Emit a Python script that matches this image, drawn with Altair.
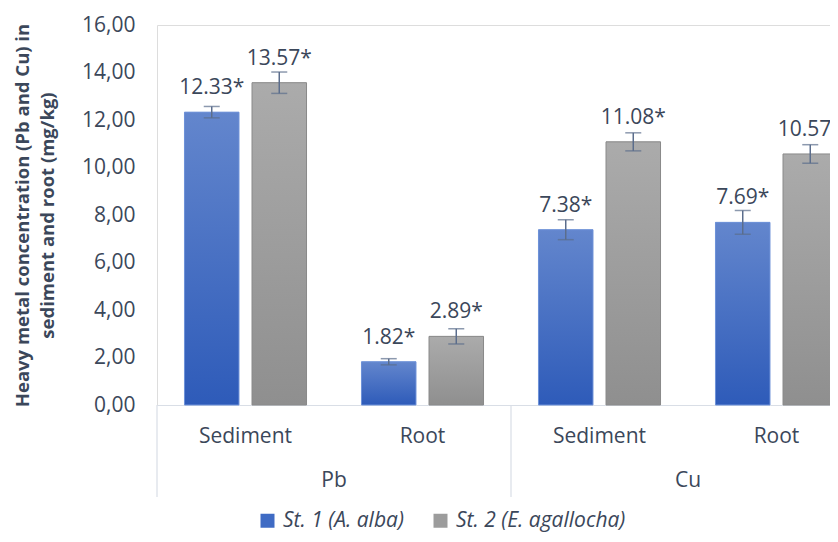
import altair as alt
import pandas as pd

# ---- data ----
metals = ["Pb", "Pb", "Cu", "Cu"]
parts = ["Sediment", "Root", "Sediment", "Root"]
stations = ["St. 1 (A. alba)", "St. 2 (E. agallocha)"]
st1_values = [12.33, 1.82, 7.38, 7.69]
st2_values = [13.57, 2.89, 11.08, 10.57]
st1_errors = [0.24, 0.13, 0.42, 0.50]
st2_errors = [0.45, 0.32, 0.38, 0.39]
y_ticks = [0, 2, 4, 6, 8, 10, 12, 14, 16]
y_title = ["Heavy metal concentration (Pb and Cu) in", "sediment and root (mg/kg)"]

cats = [f"{m} {p}" for m, p in zip(metals, parts)]

rows = []
for st, vals, errs in [(stations[0], st1_values, st1_errors), (stations[1], st2_values, st2_errors)]:
    for c, v, e in zip(cats, vals, errs):
        rows.append({"cat": c, "station": st, "value": v, "lo": v - e, "hi": v + e,
                     "label": f"{v:.2f}*"})
df = pd.DataFrame(rows)

group_names = ["Pb", "Cu"]
group_start = [cats[0], cats[2]]
group_mid = [cats[1], cats[3]]
sep_df = pd.DataFrame({"cat": group_start})
grp_df = pd.DataFrame({"cat": group_mid, "name": group_names})

TXT = "#3b475a"
FONT = "Open Sans"
FS = 21

xscale = alt.Scale(domain=cats, range=[0, 708], paddingInner=0, paddingOuter=0)
xaxis = alt.Axis(title=None, labelExpr="split(datum.label, ' ')[1]", labelAngle=0,
                 ticks=False, domain=True, domainColor="#d9dee6", domainWidth=1.2,
                 labelFontSize=FS, labelColor=TXT, labelPadding=20, labelFont=FONT)
X = alt.X("cat:N", scale=xscale, axis=xaxis, sort=cats)
XO = alt.XOffset("station:N", scale=alt.Scale(domain=stations, paddingInner=0.1926,
                                              paddingOuter=0.407))
yaxis = alt.Axis(values=y_ticks, labelExpr="replace(format(datum.value, '.2f'), '.', ',')",
                 grid=False, domain=False, ticks=False, labelFontSize=FS, labelColor=TXT,
                 labelPadding=22, labelFont=FONT, title=y_title, titleFontSize=18.5,
                 titleFontWeight="bold", titleColor=TXT, titleFont=FONT,
                 titlePadding=24, titleLineHeight=25)
yscale = alt.Scale(domain=[0, 16], nice=False)
Y = alt.Y("value:Q", scale=yscale, axis=yaxis)

base = alt.Chart(df)

bars = base.mark_bar().encode(
    x=X, xOffset=XO, y=Y,
    color=alt.Color("station:N", scale=alt.Scale(domain=stations, range=["#3f6bc4", "#9c9c9c"]),
                    legend=alt.Legend(title=None, orient="none", legendX=100, legendY=485,
                                      direction="horizontal", symbolType="square",
                                      symbolSize=196, symbolStrokeWidth=0,
                                      labelFontSize=FS, labelFontStyle="italic",
                                      labelColor=TXT, labelFont=FONT, columnPadding=26,
                                      labelOffset=5, labelLimit=400)),
)

blue_grad = alt.Gradient(gradient="linear", x1=0, x2=0, y1=0, y2=1,
                         stops=[alt.GradientStop(color="#6386cd", offset=0),
                                alt.GradientStop(color="#2e5bb9", offset=1)])
gray_grad = alt.Gradient(gradient="linear", x1=0, x2=0, y1=0, y2=1,
                         stops=[alt.GradientStop(color="#ababab", offset=0),
                                alt.GradientStop(color="#8f8f8f", offset=1)])

bars1 = base.transform_filter(alt.datum.station == stations[0]).mark_bar(
    color=blue_grad, stroke="#6f92d8", strokeWidth=1).encode(x=X, xOffset=XO, y=Y)
bars2 = base.transform_filter(alt.datum.station == stations[1]).mark_bar(
    color=gray_grad, stroke="#8a8a8a", strokeWidth=1).encode(x=X, xOffset=XO, y=Y)

ERR = "#5b6d8c"
err_rule = base.mark_rule(color=ERR, strokeWidth=1.5).encode(
    x=X, xOffset=XO, y=alt.Y("lo:Q", scale=yscale), y2="hi:Q")
cap_lo = base.mark_tick(color=ERR, thickness=1.5, size=16, orient="horizontal").encode(
    x=X, xOffset=XO, y=alt.Y("lo:Q", scale=yscale))
cap_hi = base.mark_tick(color=ERR, thickness=1.5, size=16, orient="horizontal").encode(
    x=X, xOffset=XO, y=alt.Y("hi:Q", scale=yscale))

labels = base.mark_text(fontSize=FS, color=TXT, font=FONT, dy=-18, baseline="alphabetic").encode(
    x=X, xOffset=XO, y=Y, text="label:N")

seps = alt.Chart(sep_df).mark_rule(color="#d9dee6", strokeWidth=1.2).encode(
    x=alt.X("cat:N", scale=xscale, axis=xaxis, sort=cats, bandPosition=0),
    y=alt.value(380), y2=alt.value(472))

grp_text = alt.Chart(grp_df).mark_text(fontSize=FS, color=TXT, font=FONT, baseline="middle").encode(
    x=alt.X("cat:N", scale=xscale, axis=xaxis, sort=cats, bandPosition=0),
    y=alt.value(456), text="name:N")

chart = alt.layer(bars, bars1, bars2, err_rule, cap_lo, cap_hi, labels, seps, grp_text).properties(
    width=673, height=380,
    autosize=alt.AutoSizeParams(type="none"),
    padding={"left": 149, "top": 17, "right": 0, "bottom": 129},
).configure_view(stroke=None).configure(font=FONT)

chart.save("out.html", embed_options={"renderer": "svg", "actions": False})
